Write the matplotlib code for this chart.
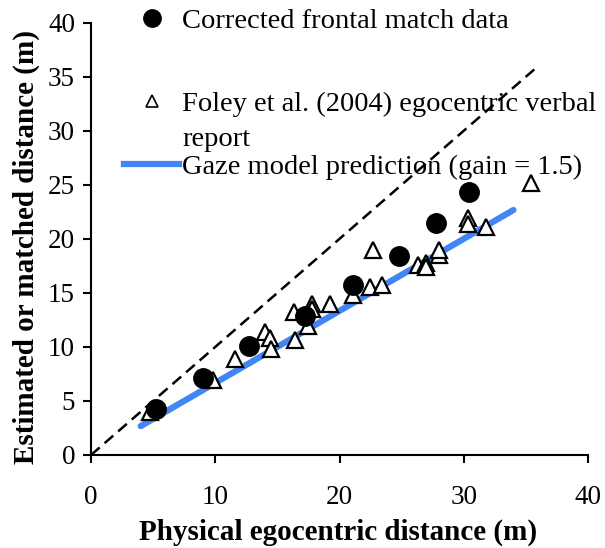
import numpy as np
import matplotlib
matplotlib.use("Agg")
import matplotlib.pyplot as plt
from matplotlib.lines import Line2D
from matplotlib.legend_handler import HandlerLine2D

plt.rcParams['font.family'] = ['Liberation Serif', 'DejaVu Serif']

# ---- data ----
match_x = [5.2, 9.0, 12.7, 17.2, 21.05, 24.8, 27.75, 30.4]
match_y = [4.3, 7.15, 10.1, 12.9, 15.7, 18.4, 21.5, 24.3]

foley_x = [4.75, 9.85, 11.6, 14.0, 14.4, 14.5, 16.3, 16.4, 17.5, 17.75, 17.8,
           19.2, 21.1, 22.45, 22.7, 23.4, 26.3, 27.0, 27.0, 28.0, 28.0,
           30.35, 30.35, 31.8, 35.45]
foley_y = [4.0, 6.95, 8.9, 11.4, 10.85, 9.8, 13.2, 10.6, 11.9, 14.0, 13.55,
           13.95, 14.8, 15.55, 18.95, 15.7, 17.6, 17.8, 17.4, 18.5, 18.95,
           21.9, 21.35, 21.1, 25.2]

model_x = [4.0, 34.0]
model_y = [2.67, 22.67]

identity_x = [0.0, 36.0]
identity_y = [0.0, 36.0]

x_ticks = [0, 10, 20, 30, 40]
y_ticks = [0, 5, 10, 15, 20, 25, 30, 35, 40]

labels = ["Corrected frontal match data",
          "Foley et al. (2004) egocentric verbal\nreport",
          "Gaze model prediction (gain = 1.5)"]

BLUE = '#4285F4'

W, H = 605, 548
fig = plt.figure(figsize=(W / 100, H / 100), dpi=100)
ax = fig.add_axes([91 / W, (H - 455) / H, (588 - 91) / W, (455 - 22.7) / H])

ax.plot(identity_x, identity_y, color='black', lw=1.8, dashes=[4.6, 2.6], zorder=1)
ax.plot(model_x, model_y, color=BLUE, lw=4.5, solid_capstyle='round', zorder=2)
ax.plot(foley_x, foley_y, linestyle='none', marker='^', ms=11, mfc='white',
        mec='black', mew=1.6, zorder=3)
ax.plot(match_x, match_y, linestyle='none', marker='o', ms=14, mfc='black',
        mec='black', zorder=4)

ax.set_xlim(0, 40)
ax.set_ylim(0, 40)
ax.set_xticks(x_ticks)
ax.set_yticks(y_ticks)
for s in ['top', 'right']:
    ax.spines[s].set_visible(False)
for s in ['left', 'bottom']:
    ax.spines[s].set_linewidth(1.5)
ax.tick_params(direction='out', length=5.5, width=1.5, labelsize=19.5)
ax.tick_params(axis='x', pad=16)
ax.tick_params(axis='y', pad=6)

ax.set_xlabel("Physical egocentric distance (m)", fontsize=21, fontweight='bold')
ax.set_ylabel("Estimated or matched distance (m)", fontsize=21, fontweight='bold')
ax.xaxis.label.set_verticalalignment('center')
ax.yaxis.label.set_verticalalignment('center')
ax.xaxis.set_label_coords((338 - 91) / 497, (455 - 532) / 432.3)
ax.yaxis.set_label_coords((26 - 91) / 497, (455 - 247) / 432.3)


class OffsetHandler(HandlerLine2D):
    def __init__(self, dy=0.0, **kw):
        super().__init__(**kw)
        self.dy = dy

    def create_artists(self, legend, orig_handle, xdescent, ydescent, width,
                       height, fontsize, trans):
        arts = super().create_artists(legend, orig_handle, xdescent, ydescent,
                                      width, height, fontsize, trans)
        for a in arts:
            a.set_ydata(np.asarray(a.get_ydata(), dtype=float) + self.dy)
        return arts


h1 = Line2D([], [], linestyle='none', marker='o', ms=12.5, mfc='black', mec='black')
h2 = Line2D([], [], linestyle='none', marker='^', ms=8.5, mfc='white', mec='black', mew=1.2)
h3 = Line2D([], [], color=BLUE, lw=4.5)

FS = 20.5
common = dict(loc='center left', frameon=False, borderpad=0, borderaxespad=0,
              handlelength=55 / (FS * 100 / 72), handletextpad=0.12,
              fontsize=FS, bbox_transform=fig.transFigure)

leg1 = ax.legend([h1], [labels[0]], bbox_to_anchor=(124 / W, 1 - 21 / H), **common)
ax.add_artist(leg1)
leg2 = ax.legend([h2], [labels[1]], bbox_to_anchor=(124 / W, 1 - 122 / H),
                 handler_map={h2: OffsetHandler(dy=14.5)}, **common)
for t in leg2.get_texts():
    t.set_linespacing(1.55)
ax.add_artist(leg2)
leg3 = ax.legend([h3], [labels[2]], bbox_to_anchor=(124 / W, 1 - 167 / H), **common)

fig.savefig("out.png", dpi=100)
